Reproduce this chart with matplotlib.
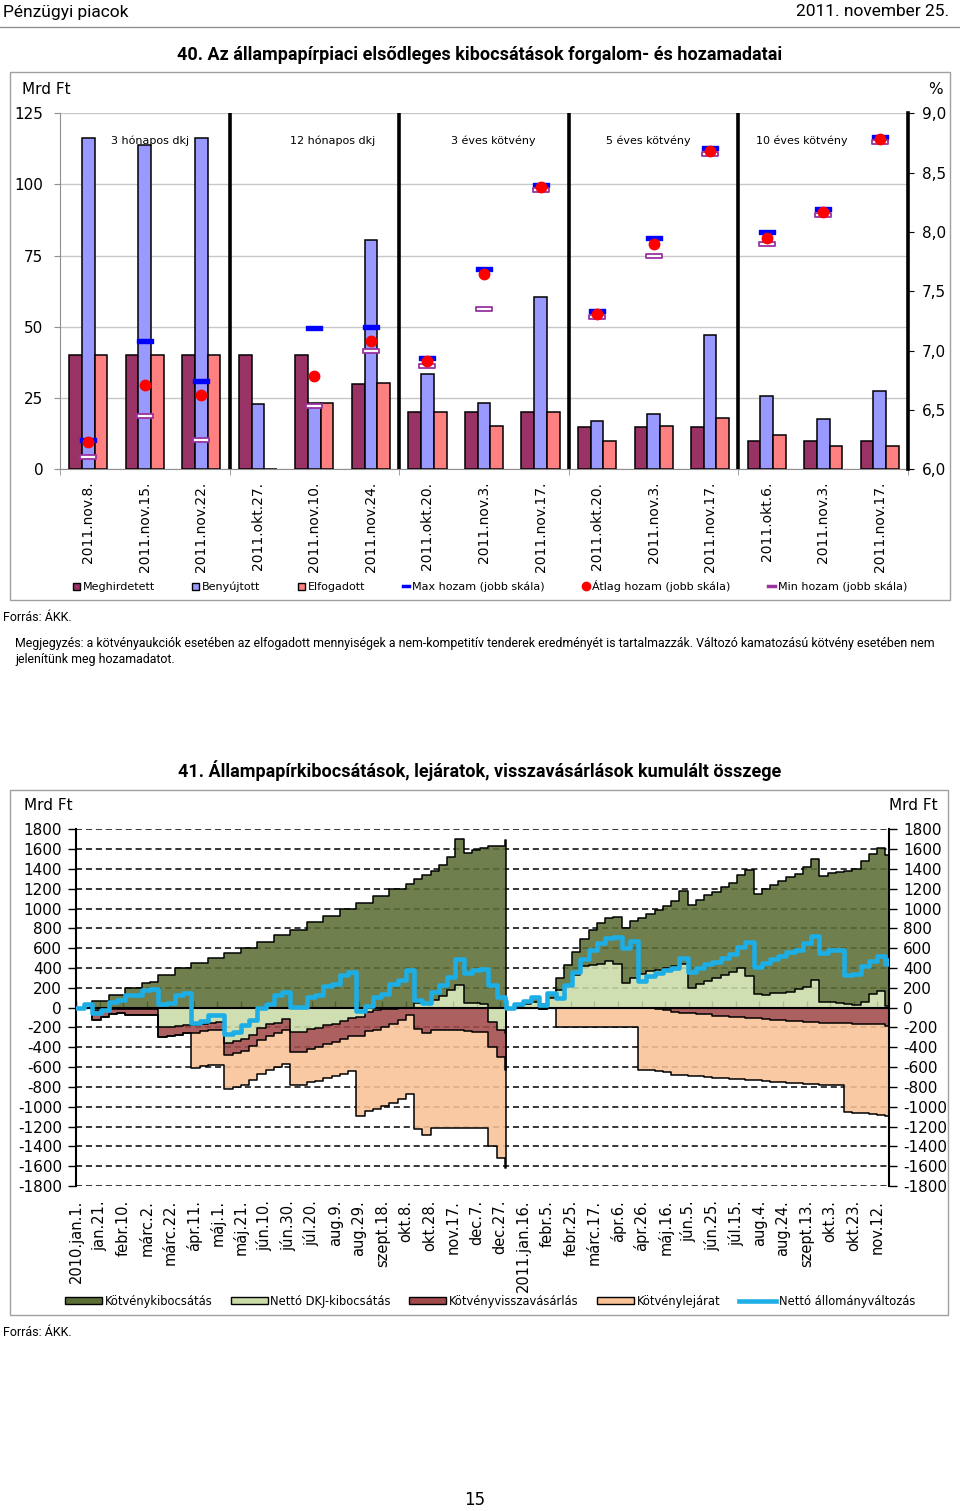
import numpy as np
import pandas as pd
import matplotlib
matplotlib.use('Agg')
import matplotlib.pyplot as plt
from matplotlib.patches import Patch, Rectangle
from matplotlib.lines import Line2D
from matplotlib.path import Path
from matplotlib.ticker import NullFormatter

plt.rcParams['font.family'] = ['DejaVu Sans']
plt.rcParams['axes.unicode_minus'] = False
NARROW = ['Roboto', 'DejaVu Sans']

W, H = 960, 1511

# ---- 40. ábra: aukciók (Mrd Ft, hozam %)
aukciok = ['2011.nov.8.', '2011.nov.15.', '2011.nov.22.', '2011.okt.27.', '2011.nov.10.',
           '2011.nov.24.', '2011.okt.20.', '2011.nov.3.', '2011.nov.17.', '2011.okt.20.',
           '2011.nov.3.', '2011.nov.17.', '2011.okt.6.', '2011.nov.3.', '2011.nov.17.']
kategoriak = ['3 hónapos dkj', '12 hónapos dkj', '3 éves kötvény', '5 éves kötvény', '10 éves kötvény']
meghirdetett = [40, 40, 40, 40, 40, 30, 20, 20, 20, 15, 15, 15, 10, 10, 10]
benyujtott = [116.2, 113.8, 116.2, 22.9, 23.2, 80.5, 33.4, 23.4, 60.6, 17.0, 19.4, 47.1, 25.7, 17.6, 27.5]
elfogadott = [40, 40, 40, 0, 23.2, 30.2, 20, 15.1, 20, 10.1, 15.1, 18.1, 12.1, 8.1, 8.1]
max_hozam = [6.25, 7.08, 6.74, np.nan, 7.19, 7.20, 6.94, 7.69, 8.40, 7.33, 7.95, 8.71, 8.00, 8.19, 8.80]
atlag_hozam = [6.23, 6.71, 6.63, np.nan, 6.79, 7.08, 6.91, 7.65, 8.38, 7.31, 7.90, 8.68, 7.95, 8.17, 8.78]
min_hozam = [6.10, 6.45, 6.25, np.nan, 6.53, 7.00, 6.87, 7.35, 8.35, 7.28, 7.80, 8.66, 7.90, 8.14, 8.76]

# ---- 41. ábra: kumulált összegek (Mrd Ft), heti leolvasás
kotveny_2010 = [0, 0, 66, 66, 127, 127, 194, 194, 251, 260, 328, 328, 402, 402, 452, 452, 503, 503,
                553, 553, 603, 603, 663, 663, 730, 730, 787, 787, 864, 864, 928, 928, 998, 998,
                1055, 1055, 1129, 1129, 1196, 1196, 1250, 1250, 1300, 1296, 1320, 1344, 1471, 1510,
                1550, 1568, 1629, 1629, 1690]
dkj_2010 = [0, 40, -20, -20, -15, -10, -10, -10, -15, -15, -200, -195, -190, -180, -175, -165, -155,
            -145, -360, -340, -320, -275, -210, -170, -150, -110, -250, -250, -220, -210, -180, -160,
            -130, -100, -91, -40, -25, -15, -10, -5, 0, 50, 40, 80, 120, 180, 229, 50, 45, 40,
            -142, -226, -260]
vissza_2010 = [0, 0, 105, 71, 52, 40, 60, 60, 55, 60, 93, 90, 85, 75, 85, 75, 75, 80, 120, 120,
               120, 115, 115, 115, 110, 120, 195, 195, 195, 190, 190, 190, 190, 190, 200, 200, 200,
               180, 150, 115, 70, 220, 260, 225, 225, 225, 228, 240, 243, 243, 253, 270, 370]
lejarat_2010 = [0, 0, 0, 0, 0, 0, 0, 0, 0, 0, 0, 0, 0, 0, 350, 350, 350, 350, 340, 340, 340, 340,
                340, 340, 340, 340, 340, 340, 340, 340, 340, 340, 345, 345, 800, 800, 800, 800, 800,
                800, 800, 1000, 1030, 990, 985, 985, 985, 975, 975, 975, 1005, 1024, 990]

kotveny_2011 = [0, 20, 30, 50, 40, 50, 120, 200, 230, 270, 350, 410, 430, 470, 550, 570, 560, 580,
                610, 630, 660, 740, 840, 850, 875, 870, 890, 900, 940, 1070, 1010, 1070, 1095, 1130,
                1160, 1160, 1210, 1220, 1270, 1305, 1325, 1345, 1370, 1420, 1410, 1445, 1520, 1500]
dkj_2011 = [0, 20, 40, 60, -10, 100, 180, 230, 330, 420, 430, 440, 470, 440, 250, 300, 340, 370,
            380, 400, 420, 440, 200, 240, 265, 300, 330, 360, 400, 320, 140, 130, 145, 150, 160,
            190, 210, 280, 60, 55, 45, 35, 30, 60, 140, 165, 20, 78]
vissza_2011 = [0, 0, 0, 0, 0, 0, 0, 0, 0, 0, 0, 0, 0, 0, 0, 0, 0, 0, 10, 20, 45, 50, 55, 60, 65,
               80, 85, 90, 95, 100, 105, 115, 120, 125, 130, 135, 140, 145, 150, 152, 155, 158,
               160, 163, 166, 170, 185, 190]
lejarat_2011 = [0, 0, 0, 0, 0, 0, 200, 200, 200, 200, 200, 200, 200, 200, 200, 200, 630, 630, 630,
                630, 630, 630, 630, 630, 630, 630, 630, 630, 630, 630, 630, 630, 630, 630, 630, 630,
                630, 630, 630, 630, 630, 892, 900, 900, 909, 915, 910, 910]

datum_2010 = pd.date_range('2010-01-01', periods=53, freq='7D')
datum_2011 = pd.date_range('2011-01-01', periods=47, freq='7D').append(pd.DatetimeIndex(['2011-11-22']))
tengely_cimkek = ['2010.jan.1.', 'jan.21.', 'febr.10.', 'márc.2.', 'márc.22.', 'ápr.11.', 'máj.1.',
                  'máj.21.', 'jún.10.', 'jún.30.', 'júl.20.', 'aug.9.', 'aug.29.', 'szept.18.',
                  'okt.8.', 'okt.28.', 'nov.17.', 'dec.7.', 'dec.27.', '2011.jan.16.', 'febr.5.',
                  'febr.25.', 'márc.17.', 'ápr.6.', 'ápr.26.', 'máj.16.', 'jún.5.', 'jún.25.',
                  'júl.15.', 'aug.4.', 'aug.24.', 'szept.13.', 'okt.3.', 'okt.23.', 'nov.12.']

fig = plt.figure(figsize=(W / 100, H / 100), dpi=100)


def fx(px):
    return px / W


def fy(py):
    return 1 - py / H


# fejléc
fig.text(fx(3), fy(12), 'Pénzügyi piacok', family=NARROW, size=12.5, va='center')
fig.text(fx(949), fy(12), '2011. november 25.', family=NARROW, size=12.5, va='center', ha='right')
fig.add_artist(Line2D([0, 1], [fy(27), fy(27)], color='#909090', lw=1))

# ================= 40. ábra
fig.text(0.5, fy(55), '40. Az állampapírpiaci elsődleges kibocsátások forgalom- és hozamadatai',
         family=NARROW, weight='bold', size=13, ha='center', va='center')
fig.add_artist(Rectangle((fx(10), fy(600)), fx(940), 528 / H, transform=fig.transFigure,
                         fill=False, ec='#A0A0A0', lw=1))

ax1 = fig.add_axes([fx(60), fy(469.3), fx(848), 356 / H])
xi = np.arange(len(aukciok))
bw = 0.225
ax1.bar(xi - bw, meghirdetett, bw, color='#993366', edgecolor='black', lw=1.1, zorder=3)
ax1.bar(xi, benyujtott, bw, color='#9999FF', edgecolor='black', lw=1.1, zorder=3)
ax1.bar(xi + bw, elfogadott, bw, color='#FF8080', edgecolor='black', lw=1.1, zorder=3)
ax1.set_xlim(-0.5, len(aukciok) - 0.5)
ax1.set_ylim(0, 125)
ax1.set_yticks(range(0, 126, 25))
ax1.grid(axis='y', color='#C8C8C8', lw=1, zorder=0)
ax1.set_axisbelow(True)
for s in ['top', 'right']:
    ax1.spines[s].set_visible(False)
for s in ['left', 'bottom']:
    ax1.spines[s].set_color('#909090')
ax1.set_xticks(xi)
ax1.set_xticklabels(aukciok, rotation=90, size=10)
ax1.set_xticks(np.arange(-0.5, len(aukciok), 3), minor=True)
ax1.tick_params(axis='x', which='major', length=0, pad=9)
ax1.tick_params(axis='x', which='minor', length=4, color='#909090')
ax1.tick_params(axis='y', length=4, color='#909090', labelsize=11, pad=8)

for b in range(3, len(aukciok), 3):
    ax1.axvline(b - 0.5, color='black', lw=2.6, zorder=4)
cat_dx = [0.1, 0.32, 0.16, -0.1, -0.38]
for k, nev in enumerate(kategoriak):
    ax1.text(3 * k + 1 + cat_dx[k], 115.5, nev, ha='center', va='center', size=8)

tw = ax1.twinx()
tw.set_ylim(6, 9)
yt = np.arange(6, 9.01, 0.5)
tw.set_yticks(yt)
tw.set_yticklabels([f'{v:.1f}'.replace('.', ',') for v in yt])
tw.tick_params(axis='y', length=4, labelsize=11, pad=6)
for s in ['top', 'left', 'bottom']:
    tw.spines[s].set_visible(False)
tw.spines['right'].set_linewidth(2.6)

rect = Path([(-1, -0.28), (1, -0.28), (1, 0.28), (-1, 0.28), (-1, -0.28)],
            [Path.MOVETO, Path.LINETO, Path.LINETO, Path.LINETO, Path.CLOSEPOLY])
tw.plot(xi, max_hozam, ls='none', marker=rect, ms=12, mfc='#0000FF', mec='#0000FF', zorder=5)
tw.plot(xi, min_hozam, ls='none', marker=rect, ms=12, mfc='white', mec='#9933A0', mew=1.3, zorder=5)
tw.plot(xi, atlag_hozam, ls='none', marker='o', ms=7.5, mfc='#FF0000', mec='#FF0000', zorder=6)

fig.text(fx(22), fy(90), 'Mrd Ft', size=11, va='center')
fig.text(fx(943), fy(90), '%', size=11, va='center', ha='right')

h1 = [Patch(fc='#993366', ec='black'), Patch(fc='#9999FF', ec='black'), Patch(fc='#FF8080', ec='black'),
      Line2D([], [], color='#0000FF', lw=2.5),
      Line2D([], [], ls='none', marker='o', ms=6, color='#FF0000'),
      Line2D([], [], color='#9933A0', lw=2.5)]
l1 = ['Meghirdetett', 'Benyújtott', 'Elfogadott', 'Max hozam (jobb skála)',
      'Átlag hozam (jobb skála)', 'Min hozam (jobb skála)']
fig.legend(h1, l1, loc='center', bbox_to_anchor=(fx(490), fy(586)), ncol=6, frameon=False,
           fontsize=8, handlelength=0.6, handleheight=0.6, handletextpad=0.25, columnspacing=3.4)

fig.text(fx(3), fy(618), 'Forrás: ÁKK.', family=NARROW, size=9, va='center')
fig.text(fx(15), fy(643), 'Megjegyzés: a kötvényaukciók esetében az elfogadott mennyiségek a nem-kompetitív '
         'tenderek eredményét is tartalmazzák. Változó kamatozású kötvény esetében nem',
         family=NARROW, size=8.9, va='center')
fig.text(fx(15), fy(660), 'jelenítünk meg hozamadatot.', family=NARROW, size=8.9, va='center')

# ================= 41. ábra
fig.text(0.5, fy(771), '41. Állampapírkibocsátások, lejáratok, visszavásárlások kumulált összege',
         family=NARROW, weight='bold', size=13, ha='center', va='center')
fig.add_artist(Rectangle((fx(10), fy(1315)), fx(938), 525 / H, transform=fig.transFigure,
                         fill=False, ec='#A0A0A0', lw=1))

datum = datum_2010.append(datum_2011)
K = np.array(kotveny_2010 + kotveny_2011, dtype=float)
D = np.array(dkj_2010 + dkj_2011, dtype=float)
V = np.array(vissza_2010 + vissza_2011, dtype=float)
L = np.array(lejarat_2010 + lejarat_2011, dtype=float)
felso = np.maximum(D, 0)
also = np.minimum(D, 0)
teto = felso + K
r_al = also - V
p_al = r_al - L
netto = K + D - V - L

ax2 = fig.add_axes([fx(76), fy(1186), fx(813), 356.7 / H])
c_kotv, c_dkj, c_vissza, c_lej = '#5B6E35', '#CADBA8', '#A24A4A', '#F8C296'
a = 0.88
ax2.fill_between(datum, felso, teto, step='post', color=c_kotv, alpha=a, lw=0, zorder=2)
ax2.fill_between(datum, 0, D, step='post', color=c_dkj, alpha=a, lw=0, zorder=2)
ax2.fill_between(datum, also, r_al, step='post', color=c_vissza, alpha=a, lw=0, zorder=2)
ax2.fill_between(datum, r_al, p_al, step='post', color=c_lej, alpha=a, lw=0, zorder=2)
for hatar in (teto, D, r_al, p_al):
    ax2.plot(datum, hatar, drawstyle='steps-post', color='black', lw=1.1, zorder=3)
ax2.axhline(0, color='black', lw=1.5, zorder=4)
ax2.plot(datum, netto, drawstyle='steps-post', color='#1DAEE6', lw=3.3, zorder=5)

ax2.set_ylim(-1800, 1800)
ax2.set_yticks(range(-1800, 1801, 200))
ax2.grid(axis='y', color='black', lw=1.1, linestyle=(0, (4, 2.5)), zorder=0)
ax2.set_axisbelow(True)
ax2.set_xlim(pd.Timestamp('2010-01-01'), pd.Timestamp('2011-11-22'))
ticks2 = pd.date_range('2010-01-01', periods=len(tengely_cimkek), freq='20D')
ax2.set_xticks(ticks2)
ax2.set_xticklabels(tengely_cimkek, rotation=90, size=10.5)
ax2.tick_params(axis='x', length=0, pad=10)
ax2.tick_params(axis='y', left=True, right=True, labelleft=True, labelright=True,
                length=6, width=1, labelsize=11, pad=4)
for s in ['top', 'bottom']:
    ax2.spines[s].set_visible(False)
for s in ['left', 'right']:
    ax2.spines[s].set_linewidth(1.5)

# apró jelölők a nulla-vonalon
sec = ax2.secondary_xaxis(0.5)
sec.set_xticks(ticks2)
sec.xaxis.set_major_formatter(NullFormatter())
sec.tick_params(axis='x', length=5, width=1, labelbottom=False, labeltop=False)
sec.spines['bottom'].set_visible(False)

fig.text(fx(24), fy(806), 'Mrd Ft', size=11, va='center')
fig.text(fx(938), fy(806), 'Mrd Ft', size=11, va='center', ha='right')

h2 = [Patch(fc=c_kotv, ec='black'), Patch(fc=c_dkj, ec='black'), Patch(fc=c_vissza, ec='black'),
      Patch(fc=c_lej, ec='black'), Line2D([], [], color='#1DAEE6', lw=3.3)]
l2 = ['Kötvénykibocsátás', 'Nettó DKJ-kibocsátás', 'Kötvényvisszavásárlás', 'Kötvénylejárat',
      'Nettó állományváltozás']
fig.legend(h2, l2, loc='center', bbox_to_anchor=(fx(490), fy(1301)), ncol=5, frameon=False,
           fontsize=8.3, handlelength=3.2, handleheight=0.6, handletextpad=0.25, columnspacing=1.6)

fig.text(fx(3), fy(1333), 'Forrás: ÁKK.', family=NARROW, size=9, va='center')
fig.text(fx(475), fy(1500), '15', size=12, ha='center', va='center')

fig.savefig('out.png', dpi=100)
